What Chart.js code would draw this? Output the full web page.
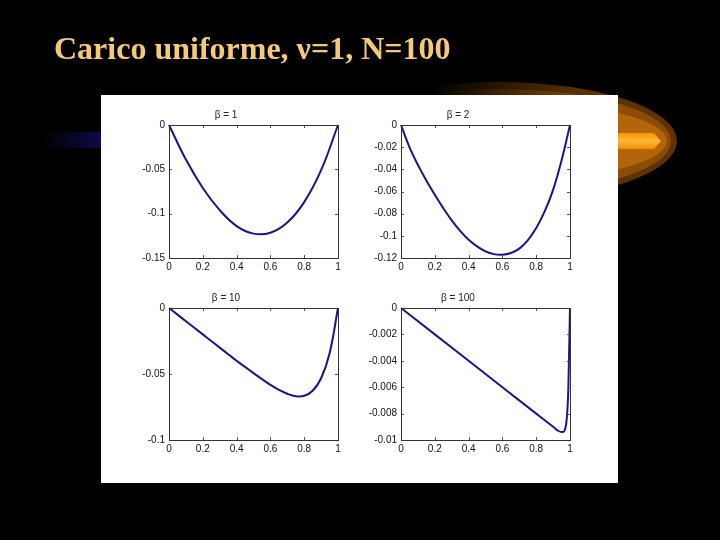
<!DOCTYPE html>
<html>
<head>
<meta charset="utf-8">
<script src="https://cdn.jsdelivr.net/npm/chart.js@4"></script>
<style>
  html, body { margin: 0; padding: 0; background: #000; }
  #stage { position: relative; width: 720px; height: 540px; overflow: hidden; background: #000; }
  #bg { position: absolute; left: 0; top: 0; }
  #heading {
    position: absolute; left: 54px; top: 32px; margin: 0;
    font: bold 32px 'Liberation Serif', 'Times New Roman', serif;
    line-height: 32px; color: #f4c978; white-space: nowrap;
  }
  #panel { position: absolute; left: 101px; top: 95px; width: 517px; height: 388px; background: #fff; }
  canvas.sub { position: absolute; }
</style>
</head>
<body>
<div id="stage">
  <canvas id="bg" width="720" height="540"></canvas>
  <div id="heading">Carico uniforme, ν=1, N=100</div>
  <div id="panel"></div>
  <canvas class="sub" id="c1" width="232" height="177" style="left:114px;top:103px"></canvas>
  <canvas class="sub" id="c2" width="232" height="177" style="left:346px;top:103px"></canvas>
  <canvas class="sub" id="c3" width="232" height="176" style="left:114px;top:286px"></canvas>
  <canvas class="sub" id="c4" width="232" height="176" style="left:346px;top:286px"></canvas>
</div>
<script>
// values
const titles = ['β = 1', 'β = 2', 'β = 10', 'β = 100'];

const x1 = [0, 0.1, 0.2, 0.3, 0.4, 0.5, 0.6, 0.7, 0.8, 0.9, 1];
const y1 = [0, -0.039, -0.071, -0.096, -0.114, -0.1225, -0.1215, -0.110, -0.087, -0.051, 0];

const x2 = [0, 0.05, 0.1, 0.15, 0.2, 0.25, 0.3, 0.35, 0.4, 0.45, 0.5, 0.55, 0.6, 0.65, 0.7, 0.75, 0.8, 0.85, 0.9, 0.95, 1];
const y2 = [0, -0.020, -0.036, -0.050, -0.063, -0.075, -0.086, -0.0955, -0.1035, -0.1095, -0.114, -0.1165, -0.117, -0.1155, -0.1115, -0.104, -0.093, -0.078, -0.0585, -0.032, 0];

const x3 = [0, 0.05, 0.1, 0.15, 0.2, 0.25, 0.3, 0.35, 0.4, 0.45, 0.5, 0.55, 0.6, 0.65, 0.7, 0.75, 0.8, 0.85, 0.9, 0.95, 1];
const y3 = [0, -0.005, -0.010, -0.015, -0.020, -0.025, -0.030, -0.035, -0.040, -0.0446, -0.0493, -0.0539, -0.0582, -0.0620, -0.0650, -0.0668, -0.0665, -0.0627, -0.0532, -0.0344, 0];

const x4 = [0, 0.2, 0.4, 0.6, 0.8, 0.9, 0.93, 0.95, 0.96, 0.97, 0.98, 0.99, 1];
const y4 = [0, -0.002, -0.004, -0.006, -0.008, -0.0090, -0.0093, -0.0094, -0.0094, -0.0092, -0.0085, -0.0062, 0];

const yMins = [-0.15, -0.12, -0.1, -0.01];
const ySteps = [0.05, 0.02, 0.05, 0.002];
const xTicks = [0, 0.2, 0.4, 0.6, 0.8, 1];

// background decoration (comet + blue streak)
(function drawBg() {
  const ctx = document.getElementById('bg').getContext('2d');
  function ell(cx, cy, rx, ry, fill) {
    ctx.beginPath();
    ctx.ellipse(cx, cy, rx, ry, 0, 0, Math.PI * 2);
    ctx.fillStyle = fill;
    ctx.fill();
  }
  ell(500, 141, 177, 59, '#5e3304');
  ell(500, 141, 171, 52, '#8a4c06');
  ell(500, 141, 167, 40, '#b4650a');
  const bar = ctx.createLinearGradient(0, 133, 0, 149);
  bar.addColorStop(0, '#f59300');
  bar.addColorStop(0.5, '#ffb83a');
  bar.addColorStop(1, '#f08c00');
  ctx.fillStyle = bar;
  ctx.beginPath();
  ctx.moveTo(430, 133);
  ctx.lineTo(654, 133);
  ctx.lineTo(661, 141);
  ctx.lineTo(654, 149);
  ctx.lineTo(430, 149);
  ctx.closePath();
  ctx.fill();
  const fade = ctx.createLinearGradient(430, 0, 590, 0);
  fade.addColorStop(0, 'rgba(0,0,0,1)');
  fade.addColorStop(1, 'rgba(0,0,0,0)');
  ctx.fillStyle = fade;
  ctx.fillRect(300, 60, 290, 150);

  const blue = ctx.createLinearGradient(40, 0, 100, 0);
  blue.addColorStop(0, 'rgba(10,10,60,0)');
  blue.addColorStop(1, 'rgba(12,12,75,1)');
  ctx.fillStyle = blue;
  ctx.fillRect(40, 132, 62, 16);
})();

const fmt = v => String(+Number(v).toFixed(4));
const tickFont = { family: "'Liberation Sans', Arial, sans-serif", size: 10 };

// box around the axes and inward tick marks on all four sides
const boxPlugin = {
  id: 'box',
  afterDatasetsDraw(chart) {
    const { ctx, chartArea: a, scales } = chart;
    ctx.save();
    ctx.strokeStyle = '#555';
    ctx.lineWidth = 1;
    ctx.beginPath();
    scales.x.ticks.forEach(t => {
      const px = Math.round(scales.x.getPixelForValue(t.value)) + 0.5;
      ctx.moveTo(px, a.bottom); ctx.lineTo(px, a.bottom - 3);
      ctx.moveTo(px, a.top); ctx.lineTo(px, a.top + 3);
    });
    scales.y.ticks.forEach(t => {
      const py = Math.round(scales.y.getPixelForValue(t.value)) + 0.5;
      ctx.moveTo(a.left, py); ctx.lineTo(a.left + 3, py);
      ctx.moveTo(a.right, py); ctx.lineTo(a.right - 3, py);
    });
    ctx.stroke();
    ctx.strokeStyle = '#333';
    ctx.strokeRect(Math.round(a.left) + 0.5, Math.round(a.top) + 0.5,
      Math.round(a.right - a.left), Math.round(a.bottom - a.top));
    ctx.restore();
  }
};

function makeChart(id, xs, ys, title, yMin, yStep, sharp) {
  new Chart(document.getElementById(id), {
    type: 'line',
    data: {
      datasets: [{
        data: xs.map((x, i) => ({ x: x, y: ys[i] })),
        borderColor: '#16168a',
        borderWidth: 2,
        pointRadius: 0,
        tension: sharp ? 0 : 0.4,
        cubicInterpolationMode: sharp ? 'monotone' : 'default',
        fill: false,
        clip: 3
      }]
    },
    options: {
      responsive: false,
      animation: false,
      events: [],
      layout: { padding: { right: 8 } },
      plugins: {
        legend: { display: false },
        tooltip: { enabled: false },
        title: {
          display: true, text: title, color: '#222',
          font: { family: tickFont.family, size: 10, weight: 'normal', lineHeight: 1 },
          padding: { top: 7, bottom: 5 }
        }
      },
      scales: {
        x: {
          type: 'linear', min: 0, max: 1,
          afterBuildTicks: s => { s.ticks = xTicks.map(v => ({ value: v })); },
          ticks: { padding: 3, font: tickFont, color: '#111', maxRotation: 0, callback: fmt },
          grid: { display: false, drawTicks: false },
          border: { display: false },
          afterFit: s => { s.height = 22; }
        },
        y: {
          min: yMin, max: 0,
          ticks: { stepSize: yStep, padding: 4, font: tickFont, color: '#111', callback: fmt },
          grid: { display: false, drawTicks: false },
          border: { display: false },
          afterFit: s => { s.width = 55; }
        }
      }
    },
    plugins: [boxPlugin]
  });
}

makeChart('c1', x1, y1, titles[0], yMins[0], ySteps[0], false);
makeChart('c2', x2, y2, titles[1], yMins[1], ySteps[1], false);
makeChart('c3', x3, y3, titles[2], yMins[2], ySteps[2], false);
makeChart('c4', x4, y4, titles[3], yMins[3], ySteps[3], true);
</script>
</body>
</html>
